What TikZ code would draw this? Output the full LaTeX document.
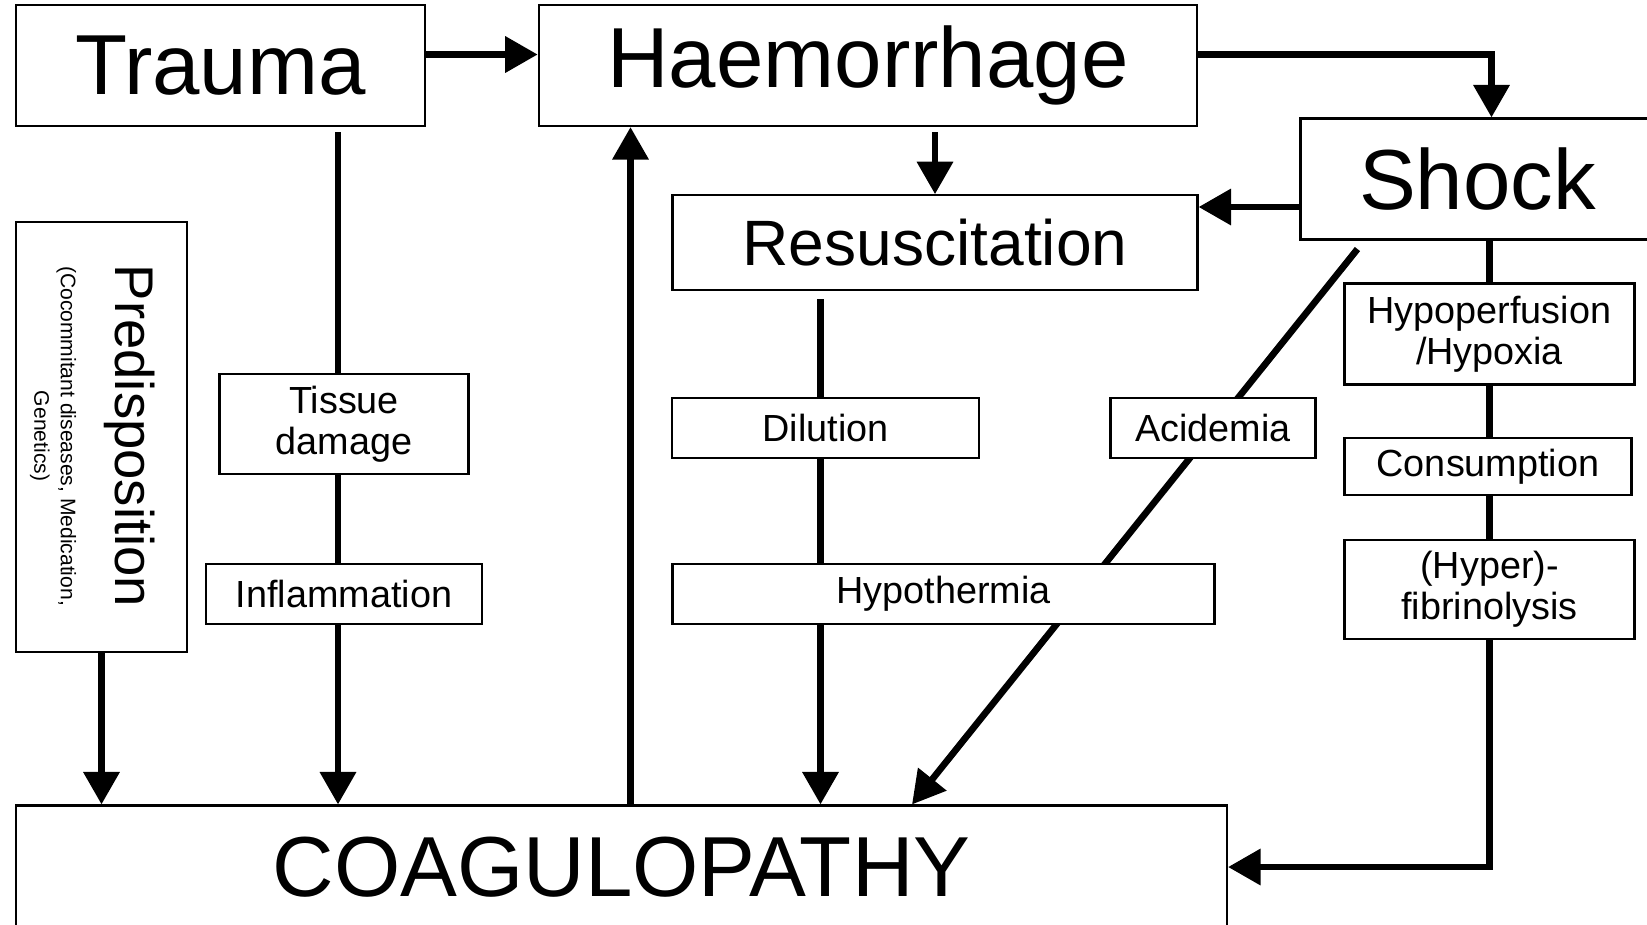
\documentclass[tikz,border=0pt]{standalone}
\usepackage{fontspec}
\setmainfont{Liberation Sans}
\usetikzlibrary{arrows.meta, backgrounds}

\begin{document}
\begin{tikzpicture}[
    box/.style={draw=black, line width=1.2pt, fill=white, inner sep=0pt, align=center},
    big/.style={font=\fontsize{48.5}{52}\selectfont},
    mid/.style={font=\fontsize{21.5}{23.5}\selectfont},
    flow/.style={line width=3.8pt, -{Triangle[length=6.5mm, width=7mm]}},
    link/.style={line width=3.8pt}
]
    \useasboundingbox (0, 0) rectangle (32.94, -18.49);

    % Top row
    \node[box, big, minimum width=8.19cm, minimum height=2.42cm] (trauma) at (4.41, -1.31) {Trauma};
    \node[box, big, minimum width=13.17cm, minimum height=2.42cm] (haem) at (17.36, -1.31) {Haemorrhage};
    \node[box, big, minimum width=7.08cm, minimum height=2.42cm] (shock) at (29.55, -3.58) {Shock};
    \node[box, font=\fontsize{36.5}{40}\selectfont, minimum width=10.5cm, minimum height=1.89cm] (resus) at (18.70, -4.85) {Resuscitation};

    % Predisposition (rotated text)
    \node[box, minimum width=3.43cm, minimum height=8.61cm] (predis) at (2.03, -8.74) {};
    \node[rotate=-90, align=center, font=\fontsize{12}{15}\selectfont] (predistxt) at (1.85, -8.72)
        {{\fontsize{31}{34}\selectfont Predisposition}\\[15pt](Cocommitant diseases, Medication,\\Genetics)};

    % Mechanisms
    \node[box, mid, minimum width=4.98cm, minimum height=2.0cm] (tissue) at (6.88, -8.48) {Tissue\\damage};
    \node[box, mid, minimum width=5.53cm, minimum height=1.2cm] (inflam) at (6.88, -11.88) {Inflammation};
    \node[box, mid, minimum width=6.14cm, minimum height=1.2cm] (dilution) at (16.51, -8.56) {Dilution};
    \node[box, mid, minimum width=4.1cm, minimum height=1.2cm] (acidemia) at (24.26, -8.56) {Acidemia};
    \node[box, mid, minimum width=10.84cm, minimum height=1.2cm] (hypotherm) at (18.87, -11.88) {Hypothermia};
    \node[box, mid, minimum width=5.8cm, minimum height=2.02cm] (hypoperf) at (29.79, -6.68) {Hypoperfusion\\/Hypoxia};
    \node[box, mid, minimum width=5.74cm, minimum height=1.14cm] (consump) at (29.76, -9.33) {Consumption};
    \node[box, mid, minimum width=5.8cm, minimum height=1.98cm] (fibrin) at (29.79, -11.79) {(Hyper)-\\fibrinolysis};

    % Result
    \node[box, big, minimum width=24.22cm, minimum height=2.46cm] (coag) at (12.43, -17.34) {COAGULOPATHY};

    % Connectors (behind the boxes)
    \begin{pgfonlayer}{background}
        \fill[white] (0, 0) rectangle (32.94, -18.49);
        \draw[flow] ([yshift=2.2mm]trauma.east) -- ([yshift=2.2mm]haem.west);
        \draw[flow] ([yshift=2.2mm]haem.east) -| ([xshift=2.8mm]shock.north);
        \draw[flow] ([yshift=-1mm]resus.north |- haem.south) -- (resus.north);
        \draw[flow] ([yshift=-5.6mm]shock.west) -- ([yshift=-5.6mm]shock.west -| resus.east);
        \coordinate (tline) at ([xshift=-1.2mm]tissue.center);
        \draw[flow] ([yshift=-1mm]tline |- trauma.south) -- (tline |- coag.north);
        \draw[flow] (predis.south) -- (predis.south |- coag.north);
        \draw[flow] ([xshift=1.8mm]coag.north) -- ([xshift=1.8mm]coag.north |- haem.south);
        \coordinate (rline) at ([xshift=-1mm]dilution.center);
        \draw[flow] ([yshift=-1.7mm]rline |- resus.south) -- (rline |- coag.north);
        \draw[flow] ([xshift=11.6mm, yshift=-1.7mm]shock.south west) -- ([xshift=58.1mm]coag.north);
        \draw[flow] (hypoperf.center |- shock.south) -- (hypoperf.center |- coag.east) -- (coag.east);
    \end{pgfonlayer}
\end{tikzpicture}
\end{document}
